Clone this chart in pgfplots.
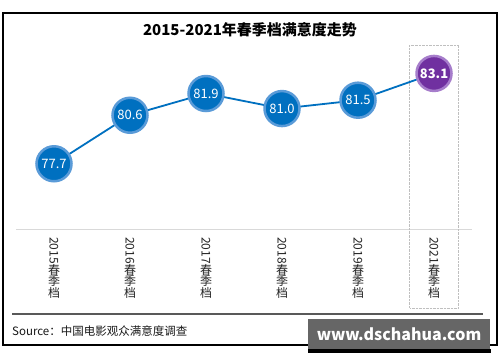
\documentclass[border=0pt]{standalone}
\usepackage{fontspec}
\setmainfont{Noto Sans CJK SC}
\usepackage{graphicx}
\usepackage{pgfplots}
\pgfplotsset{compat=1.18}
\definecolor{cblue}{HTML}{0070C0}
\definecolor{cring}{HTML}{5A9BD8}
\definecolor{cpurple}{HTML}{7030A0}
\definecolor{cpring}{HTML}{A67DCB}
\newcommand\vlab[1]{\shortstack{\rotatebox{-90}{#1}\\[-2.5bp]春\\[-2.5bp]季\\[-2.5bp]档}}
\begin{document}
\begin{tikzpicture}[x=1bp,y=1bp]
\useasboundingbox (0,0) rectangle (500,362);
\fill[white] (0,0) rectangle (500,362);
\draw[black, line width=1.2bp] (3,17) rectangle (497,349);
\node[font=\bfseries\fontsize{15bp}{18bp}\selectfont] at (250,332) {2015-2021年春季档满意度走势};
\begin{axis}[at={(16bp,133bp)}, anchor=south west, scale only axis,
  width=456bp, height=184bp, xmin=-0.5, xmax=5.5, ymin=73.8, ymax=84.8,
  hide y axis, axis x line*=bottom,
  x axis line style={draw=black!15, line width=1bp},
  xtick={0,...,5},
  xticklabels={\vlab{2015},\vlab{2016},\vlab{2017},\vlab{2018},\vlab{2019},\vlab{2021}},
  major tick length=0,
  xticklabel style={anchor=north, inner sep=0pt, yshift=-8bp, font=\fontsize{12bp}{13bp}\selectfont, text=black!85},
  clip=false]
\draw[densely dotted, black!25] (axis cs:4.68,84.8) rectangle ([yshift=-79bp]axis cs:5.32,73.8);
\addplot[cblue, line width=1.8bp, no marks] coordinates {(0,77.7)(1,80.6)(2,81.9)(3,81.0)(4,81.5)(5,83.1)};
\addplot[only marks, mark=*, mark size=17.5bp, mark options={fill=cblue, draw=cring, line width=2.5bp},
  point meta=explicit symbolic, nodes near coords,
  every node near coord/.style={anchor=center, text=white, font=\fontsize{13bp}{16bp}\selectfont}]
  coordinates {(0,77.7) [77.7] (1,80.6) [80.6] (2,81.9) [81.9] (3,81.0) [81.0] (4,81.5) [81.5]};
\addplot[only marks, mark=*, mark size=17.5bp, mark options={fill=cpurple, draw=cpring, line width=2.5bp},
  point meta=explicit symbolic, nodes near coords,
  every node near coord/.style={anchor=center, text=white, font=\bfseries\fontsize{13bp}{16bp}\selectfont}]
  coordinates {(5,83.1) [83.1]};
\end{axis}
\draw[black!65, line width=1.5bp] (12,48) -- (483,48);
\node[anchor=west, inner sep=0pt, font=\fontsize{11.5bp}{13bp}\selectfont, text=black!90] at (12,31) {Source：中国电影观众满意度调查};
\fill[black!60] (308,13) rectangle (490,43);
\fill[black] (308,9) rectangle (491,13);
\node[text=white, font=\bfseries\fontsize{16bp}{18bp}\selectfont] at (399,28) {www.dschahua.com};
\end{tikzpicture}
\end{document}
